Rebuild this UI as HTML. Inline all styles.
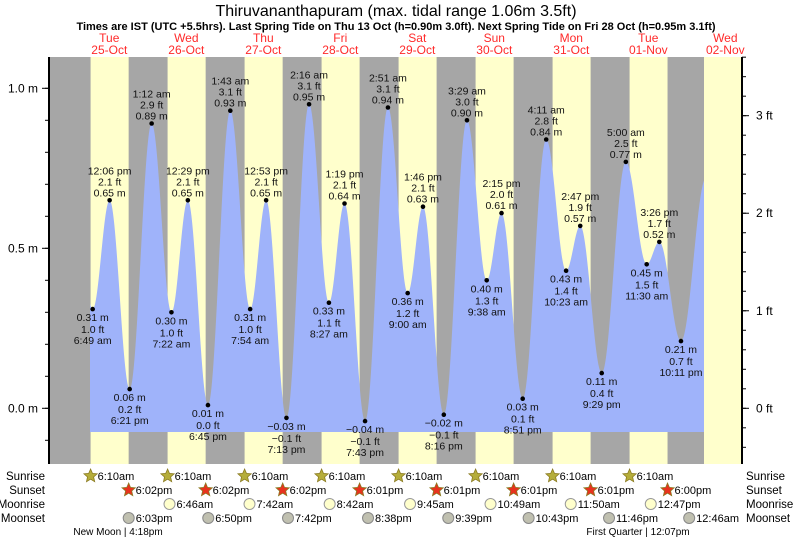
<!DOCTYPE html>
<html><head><meta charset="utf-8"><style>
body{margin:0;background:#fff;}
svg{display:block;font-family:"Liberation Sans",sans-serif;}
</style></head><body>
<svg id="chart" width="793" height="539" viewBox="0 0 793 539">
<text x="396" y="16" text-anchor="middle" font-size="16">Thiruvananthapuram (max. tidal range 1.06m 3.5ft)</text>
<text x="396" y="30" text-anchor="middle" font-size="11" font-weight="bold">Times are IST (UTC +5.5hrs). Last Spring Tide on Thu 13 Oct (h=0.90m 3.0ft). Next Spring Tide on Fri 28 Oct (h=0.95m 3.1ft)</text>
<g id="bands"></g><g id="fill"></g><g id="axes"></g><g id="marks"></g><g id="days"></g><g id="astro"></g>
</svg>
<script>
// day offsets from 25-Oct 00:00 (days), heights in m
const tideDays = [-0.02, 0.2840, 0.5042, 0.7646, 1.05, 1.3069, 1.5201, 1.7813, 2.0715, 2.3292, 2.5368, 2.8007, 3.0944, 3.3521, 3.5549, 3.8215, 4.1188, 4.375, 4.5736, 4.8444, 5.1451, 5.4014, 5.5938, 5.8688, 6.1743, 6.4326, 6.6160, 6.8951, 7.2083, 7.4792, 7.6431, 7.9243, 8.25];
const tideHeights = [0.85, 0.31, 0.65, 0.06, 0.89, 0.30, 0.65, 0.01, 0.93, 0.31, 0.65, -0.03, 0.95, 0.33, 0.64, -0.04, 0.94, 0.36, 0.63, -0.02, 0.90, 0.40, 0.61, 0.03, 0.84, 0.43, 0.57, 0.11, 0.77, 0.45, 0.52, 0.21, 0.72];
const tideTimes = ["", "6:49 am", "12:06 pm", "6:21 pm", "1:12 am", "7:22 am", "12:29 pm", "6:45 pm", "1:43 am", "7:54 am", "12:53 pm", "7:13 pm", "2:16 am", "8:27 am", "1:19 pm", "7:43 pm", "2:51 am", "9:00 am", "1:46 pm", "8:16 pm", "3:29 am", "9:38 am", "2:15 pm", "8:51 pm", "4:11 am", "10:23 am", "2:47 pm", "9:29 pm", "5:00 am", "11:30 am", "3:26 pm", "10:11 pm", ""];
const tideFeet = ["", "1.0", "2.1", "0.2", "2.9", "1.0", "2.1", "0.0", "3.1", "1.0", "2.1", "\u22120.1", "3.1", "1.1", "2.1", "\u22120.1", "3.1", "1.2", "2.1", "\u22120.1", "3.0", "1.3", "2.0", "0.1", "2.8", "1.4", "1.9", "0.4", "2.5", "1.5", "1.7", "0.7", ""];
const dayNames = ["Tue","Wed","Thu","Fri","Sat","Sun","Mon","Tue","Wed"];
const dayDates = ["25-Oct","26-Oct","27-Oct","28-Oct","29-Oct","30-Oct","31-Oct","01-Nov","02-Nov"];
const sunriseH = [6.167,6.167,6.167,6.167,6.167,6.167,6.167,6.167];
const sunsetH = [18.033,18.033,18.033,18.017,18.017,18.017,18.017,18.0];
const sunsetLbl = ["6:02pm","6:02pm","6:02pm","6:01pm","6:01pm","6:01pm","6:01pm","6:00pm"];
const moonriseT = [1.282,2.321,3.362,4.406,5.451,6.493,7.532];
const moonriseLbl = ["6:46am","7:42am","8:42am","9:45am","10:49am","11:50am","12:47pm"];
const moonsetT = [0.752,1.785,2.821,3.860,4.902,5.946,6.990,8.031];
const moonsetLbl = ["6:03pm","6:50pm","7:42pm","8:38pm","9:39pm","10:43pm","11:46pm","12:46am"];
const yTicksM = [0.0, 0.5, 1.0];
const yTicksFt = [0, 1, 2, 3];

const NS="http://www.w3.org/2000/svg";
const X0=70.8, PXD=77, LEFT=49, RIGHT=742, TOP=57, BOT=464, FILLB=432, DATAEND=704;
const xT = d => X0 + d*PXD;
const yM = m => 408.3 - m*320;
function el(tag, attrs, parent, txt){const e=document.createElementNS(NS,tag);for(const k in attrs)e.setAttribute(k,attrs[k]);if(txt!==undefined)e.textContent=txt;parent.appendChild(e);return e;}
const gB=document.getElementById('bands'), gF=document.getElementById('fill'), gA=document.getElementById('axes'), gM=document.getElementById('marks'), gD=document.getElementById('days'), gS=document.getElementById('astro');

let r=el('rect',{x:LEFT,y:TOP,width:RIGHT-LEFT,height:BOT-TOP,fill:'#ffffcc'},gB);


for(let d=0; d<=8; d++){
  const start = d===0 ? LEFT : xT(d-1+sunsetH[d-1]/24);
  const end = d<8 ? xT(d+sunriseH[d]/24) : DATAEND;
  const n=el('rect',{x:start,y:TOP,width:end-start,height:BOT-TOP,fill:'#a6a6a6'},gB);
  
  
}
let pts=[];
for(let px=90; px<=DATAEND; px+=0.5){
  const t=(px-X0)/PXD;
  let i=0; while(i<tideDays.length-2 && tideDays[i+1]<t) i++;
  const t0=tideDays[i], t1=tideDays[i+1];
  const f=Math.min(1,Math.max(0,(t-t0)/(t1-t0)));
  const h=tideHeights[i]+(tideHeights[i+1]-tideHeights[i])*(1-Math.cos(Math.PI*f))/2;
  pts.push(px.toFixed(1)+','+yM(h).toFixed(1));
}
const poly=el('polygon',{points:'90,'+FILLB+' '+pts.join(' ')+' '+DATAEND+','+FILLB,fill:'#9fb3fa'},gF);


el('line',{x1:LEFT,y1:TOP,x2:LEFT,y2:BOT,stroke:'#000','stroke-width':2},gA);
el('line',{x1:RIGHT,y1:TOP,x2:RIGHT,y2:BOT,stroke:'#000','stroke-width':2},gA);
for(let k=-2;k<=11;k++){const y=yM(k/10);if(y<TOP||y>BOT)continue;el('line',{x1:LEFT-4,y1:y,x2:LEFT,y2:y,stroke:'#000'},gA);}
yTicksM.forEach(m=>{const y=yM(m);el('line',{x1:LEFT-7,y1:y,x2:LEFT,y2:y,stroke:'#000'},gA);
  const t=el('text',{x:LEFT-11,y:y+4,'text-anchor':'end','font-size':12},gA,m.toFixed(1)+' m');
  
  });
for(let k=-3;k<=20;k++){const y=yM(k*0.2*0.3048);if(y<TOP||y>BOT)continue;el('line',{x1:RIGHT,y1:y,x2:RIGHT+4,y2:y,stroke:'#000'},gA);}
yTicksFt.forEach(f=>{const y=yM(f*0.3048);el('line',{x1:RIGHT,y1:y,x2:RIGHT+7,y2:y,stroke:'#000'},gA);
  const t=el('text',{x:RIGHT+14,y:y+4,'font-size':12},gA,f+' ft');
  
  });
for(let i=1;i<tideDays.length-1;i++){
  const x=xT(tideDays[i]), y=yM(tideHeights[i]);
  const high = tideHeights[i]>tideHeights[i-1];
  const c=el('circle',{cx:x,cy:y,r:2.3,fill:'#000'},gM);
  
  
  const m=(tideHeights[i]<0?'\u2212'+Math.abs(tideHeights[i]).toFixed(2):tideHeights[i].toFixed(2))+' m';
  const lines = high ? [[tideTimes[i],-26],[tideFeet[i]+' ft',-15],[m,-4]] : [[m,12],[tideFeet[i]+' ft',24],[tideTimes[i],35]];
  lines.forEach(([s,dy])=>{const t=el('text',{x:x,y:y+dy,'text-anchor':'middle','font-size':10.5,fill:'#111'},gM,s);
    
    });
}
dayNames.forEach((n,i)=>{const x=xT(i+0.5);
  const a=el('text',{x:x,y:42,'text-anchor':'middle','font-size':12,fill:'#ff2a2a'},gD,n);
  
  
  const b=el('text',{x:x,y:54,'text-anchor':'middle','font-size':12,fill:'#ff2a2a'},gD,dayDates[i]);
  
  });
const rows=[['Sunrise',476],['Sunset',490],['Moonrise',504],['Moonset',518]];
rows.forEach(([n,y])=>{
  const a=el('text',{x:45,y:y+4,'text-anchor':'end','font-size':11.5},gS,n);
  
  
  const b=el('text',{x:746,y:y+4,'font-size':11.5},gS,n);
  
  });
function star(cx,cy,fill){let p=[];for(let k=0;k<10;k++){const rr=k%2?3.2:7;const a=-Math.PI/2+k*Math.PI/5;p.push((cx+rr*Math.cos(a)).toFixed(1)+','+(cy+rr*Math.sin(a)).toFixed(1));}
  return el('polygon',{points:p.join(' '),fill:fill,stroke:'#8a7a20','stroke-width':0.8},gS);}
sunriseH.forEach((h,d)=>{const x=xT(d+h/24);const s=star(x,476,'#b5ad3a');
  
  
  const t=el('text',{x:x+7,y:480,'font-size':11},gS,'6:10am');
  
  });
sunsetH.forEach((h,d)=>{const x=xT(d+h/24);const s=star(x,490,'#e8321e');
  
  
  const t=el('text',{x:x+7,y:494,'font-size':11},gS,sunsetLbl[d]);
  
  });
moonriseT.forEach((d,i)=>{const x=xT(d);const c=el('circle',{cx:x,cy:504,r:5.5,fill:'#ffffcc',stroke:'#999'},gS);
  
  
  const t=el('text',{x:x+7,y:508,'font-size':11},gS,moonriseLbl[i]);
  
  });
moonsetT.forEach((d,i)=>{const x=xT(d);const c=el('circle',{cx:x,cy:518,r:5.5,fill:'#c0c0b0',stroke:'#888'},gS);
  
  
  const t=el('text',{x:x+7,y:522,'font-size':11},gS,moonsetLbl[i]);
  
  });
let p1=el('text',{x:118,y:535,'text-anchor':'middle','font-size':10},gS,'New Moon | 4:18pm');


let p2=el('text',{x:638,y:535,'text-anchor':'middle','font-size':10},gS,'First Quarter | 12:07pm');


</script>
</body></html>
